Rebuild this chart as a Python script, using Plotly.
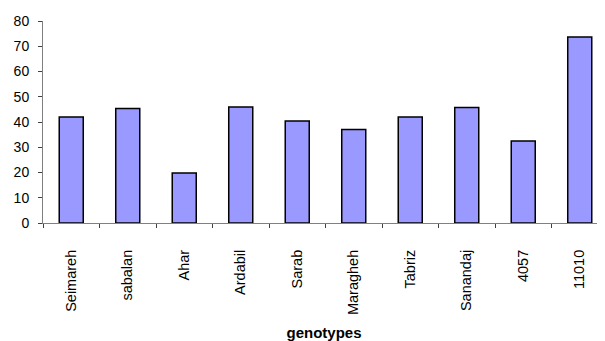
import plotly.graph_objects as go

genotypes = ["Seimareh", "sabalan", "Ahar", "Ardabil", "Sarab", "Maragheh",
             "Tabriz", "Sanandaj", "4057", "11010"]
values = [42.0, 45.3, 19.8, 45.9, 40.4, 37.0, 42.0, 45.7, 32.5, 73.7]
y_ticks = [0, 10, 20, 30, 40, 50, 60, 70, 80]

fig = go.Figure(go.Bar(
    x=genotypes, y=values,
    marker=dict(color="#9999FF", line=dict(color="black", width=1.5)),
    width=0.425,
))

# page body has an 8px margin, so the figure is sized and offset accordingly
fig.update_layout(
    width=597, height=333,
    margin=dict(l=35, r=0, t=13, b=118),
    paper_bgcolor="white", plot_bgcolor="white",
    font=dict(family="Liberation Sans, Arial, sans-serif", size=14, color="black"),
    showlegend=False,
)
fig.update_xaxes(
    range=[-0.5, 9.447],
    automargin=False,
    tickangle=-90,
    showline=True, linecolor="#808080", linewidth=1,
    ticks="outside", ticklen=4, tickcolor="#404040", tickson="boundaries",
    ticklabelstandoff=20,
    showgrid=False,
    title=dict(text="<b>genotypes</b>", font=dict(size=15), standoff=14),
    tickfont=dict(size=14.5),
)
fig.update_yaxes(
    range=[0, 80], tickvals=y_ticks,
    automargin=False,
    showline=True, linecolor="#808080", linewidth=1,
    ticks="outside", ticklen=4, tickcolor="#404040",
    ticklabelstandoff=6,
    showgrid=False, zeroline=False,
    tickfont=dict(size=14),
)

fig.write_html("out.html")
